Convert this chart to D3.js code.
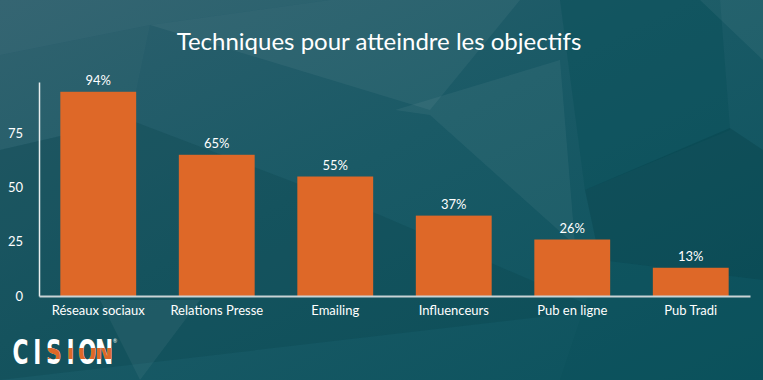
<!DOCTYPE html>
<html>
<head>
<meta charset="utf-8">
<script src="https://cdn.jsdelivr.net/npm/d3@7"></script>
<style>
  body { margin: 0; background: #0f5460; }
  svg { display: block; font-family: Lato, "Open Sans", sans-serif; }
</style>
</head>
<body>
<script>
var w = 763;
var h = 380;

// data
var categories = ["Réseaux sociaux", "Relations Presse", "Emailing", "Influenceurs", "Pub en ligne", "Pub Tradi"];
var values = [94, 65, 55, 37, 26, 13];
var yTicks = [0, 25, 50, 75];
var title = "Techniques pour atteindre les objectifs";

var barColor = "#de6828";

var svg = d3.select("body").append("svg").attr("width", w).attr("height", h);

// background gradient
var defs = svg.append("defs");
var bg = defs.append("linearGradient").attr("id", "bg")
  .attr("x1", "0").attr("y1", "0").attr("x2", "1").attr("y2", "1");
bg.append("stop").attr("offset", "0").attr("stop-color", "#2d5f6d");
bg.append("stop").attr("offset", "0.45").attr("stop-color", "#1a5a66");
bg.append("stop").attr("offset", "1").attr("stop-color", "#0b525d");
svg.append("rect").attr("width", w).attr("height", h).attr("fill", "url(#bg)");

// low-poly facets (decoration only)
var facets = [
  { p: [[0, 0], [330, 0], [150, 25], [0, 55]], c: "#ffffff", o: 0.04 },
  { p: [[330, 0], [520, 0], [430, 110], [150, 25]], c: "#ffffff", o: 0.05 },
  { p: [[395, 110], [560, 60], [575, 245], [430, 115]], c: "#ffffff", o: 0.05 },
  { p: [[560, 0], [720, 0], [730, 130], [585, 190]], c: "#0a4f59", o: 0.5 },
  { p: [[585, 190], [730, 128], [763, 150], [763, 280], [600, 260]], c: "#063f49", o: 0.35 },
  { p: [[0, 150], [130, 120], [380, 215], [600, 310], [0, 380]], c: "#063f49", o: 0.25 },
  { p: [[600, 260], [763, 280], [763, 380], [560, 380]], c: "#0a4f59", o: 0.3 },
  { p: [[100, 300], [200, 300], [140, 380]], c: "#ffffff", o: 0.05 },
  { p: [[700, 0], [763, 0], [763, 60]], c: "#ffffff", o: 0.05 },
  { p: [[0, 55], [150, 25], [130, 120], [0, 150]], c: "#ffffff", o: 0.02 }
];
svg.append("g").selectAll("path").data(facets).enter().append("path")
  .attr("d", function (d) { return "M" + d.p.join("L") + "Z"; })
  .attr("fill", function (d) { return d.c; })
  .attr("fill-opacity", function (d) { return d.o; });

// title
svg.append("text")
  .attr("x", 379).attr("y", 50)
  .attr("text-anchor", "middle")
  .attr("fill", "#ffffff")
  .style("font-size", "24px")
  .text(title);

// scales
var x = d3.scaleBand().domain(categories).range([39, 750])
  .paddingInner(0.36).paddingOuter(0.18);
var y = d3.scaleLinear().domain([0, 98.5]).range([296, 82]);

// bars
svg.append("g").selectAll("rect").data(values).enter().append("rect")
  .attr("x", function (d, i) { return x(categories[i]); })
  .attr("width", x.bandwidth())
  .attr("y", function (d) { return y(d); })
  .attr("height", function (d) { return y(0) - y(d); })
  .attr("fill", barColor);

// value labels
svg.append("g").selectAll("text").data(values).enter().append("text")
  .attr("x", function (d, i) { return x(categories[i]) + x.bandwidth() / 2; })
  .attr("y", function (d) { return y(d) - 7; })
  .attr("text-anchor", "middle")
  .attr("fill", "#ffffff")
  .style("font-size", "13px")
  .text(function (d) { return d + "%"; });

// y axis
var yAxis = svg.append("g").attr("transform", "translate(39,0)")
  .call(d3.axisLeft(y).tickValues(yTicks).tickSize(0).tickPadding(16));
yAxis.select(".domain").attr("stroke", "#e8eeee").attr("stroke-width", 1.5);
yAxis.selectAll("text").attr("fill", "#ffffff").style("font-size", "13px")
  .style("font-family", "Lato, sans-serif");

// x axis
var xAxis = svg.append("g").attr("transform", "translate(0,296)")
  .call(d3.axisBottom(x).tickSize(0).tickPadding(10));
xAxis.select(".domain").attr("stroke", "#c9d3d5").attr("stroke-width", 2);
xAxis.selectAll("text").attr("fill", "#ffffff").style("font-size", "13px")
  .style("font-family", "Lato, sans-serif");

// logo: one letter at a time, squeezed horizontally
var logoLetters = ["C", "I", "S", "I", "O", "N"];
var logoX = d3.scalePoint().domain(d3.range(logoLetters.length)).range([20.5, 104]);
defs.append("clipPath").attr("id", "band").append("rect")
  .attr("x", 44).attr("y", 348).attr("width", 70).attr("height", 11);
function logoLayer(fill) {
  var g = svg.append("g").attr("fill", fill);
  g.selectAll("text").data(logoLetters).enter().append("text")
    .attr("transform", function (d, i) { return "translate(" + logoX(i) + ",364) scale(0.66,1)"; })
    .attr("text-anchor", "middle")
    .style("font-family", "'DejaVu Sans', sans-serif")
    .style("font-weight", "bold").style("font-size", "33px")
    .text(function (d) { return d; });
  return g;
}
logoLayer("#ffffff");
logoLayer(barColor).attr("clip-path", "url(#band)");
svg.append("text").attr("x", 113).attr("y", 343).attr("fill", "#ffffff")
  .style("font-size", "5px").text("®");
</script>
</body>
</html>
